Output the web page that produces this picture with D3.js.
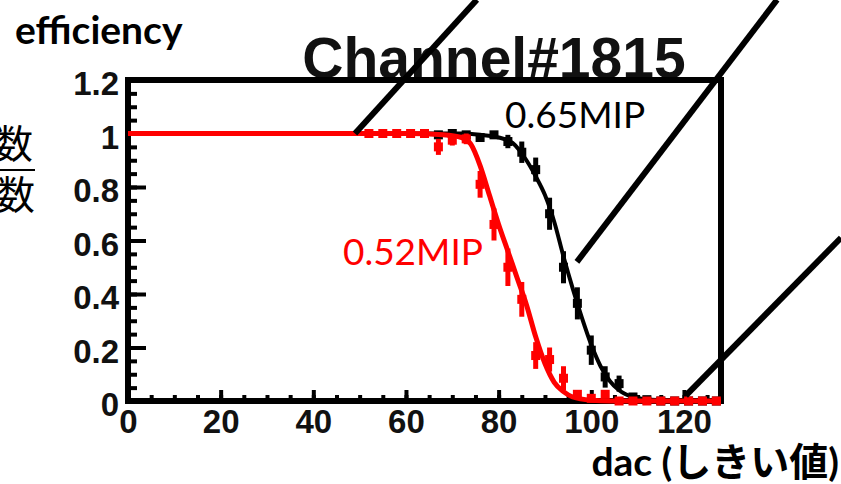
<!DOCTYPE html>
<html>
<head>
<meta charset="utf-8">
<script src="https://cdn.jsdelivr.net/npm/d3@7"></script>
<style>
  body { margin: 0; background: #fff; }
  svg { display: block; }
  .tick-label { font-family: "Liberation Sans", Arial, sans-serif; font-weight: bold; font-size: 33px; fill: #111; }
</style>
</head>
<body>
<div id="wrapper"></div>
<script>
// data
const redDac = [52, 55, 58, 61, 64, 67, 70, 73, 76, 79, 82, 85, 88, 91, 94, 97, 100, 103, 106, 109, 112, 115, 118, 121, 124, 127]
const redEff = [1, 1, 1, 1, 1, 0.95, 0.975, 0.98, 0.81, 0.66, 0.5, 0.38, 0.17, 0.155, 0.085, 0.025, 0.01, 0.025, 0, 0, 0, 0, 0, 0, 0, 0]
const redErr = [0.005, 0.005, 0.005, 0.005, 0.005, 0.03, 0.02, 0.02, 0.05, 0.06, 0.07, 0.065, 0.05, 0.045, 0.045, 0.012, 0.01, 0.012, 0.004, 0.004, 0.004, 0.004, 0.004, 0.004, 0.004, 0.004]

const blackDac = [64, 67, 70, 73, 76, 79, 82, 85, 88, 91, 94, 97, 100, 103, 106, 109, 112, 115, 118, 121, 124, 127]
const blackEff = [1, 0.995, 1, 0.995, 0.985, 0.995, 0.97, 0.93, 0.865, 0.7, 0.5, 0.365, 0.19, 0.09, 0.065, 0.015, 0.005, 0, 0, 0, 0, 0]
const blackErr = [0.005, 0.005, 0.005, 0.005, 0.01, 0.01, 0.025, 0.04, 0.045, 0.06, 0.06, 0.06, 0.055, 0.04, 0.03, 0.01, 0.005, 0.004, 0.004, 0.004, 0.004, 0.004]

// fit curves
const redFitDac = [0, 60, 68, 72, 74, 76, 78, 80, 82, 84, 86, 88, 90, 92, 94, 96, 100, 104, 128]
const redFitEff = [1, 1, 0.995, 0.985, 0.96, 0.88, 0.77, 0.66, 0.56, 0.46, 0.36, 0.24, 0.14, 0.07, 0.035, 0.015, 0.003, 0, 0]
const blackFitDac = [0, 72, 76, 80, 83, 86, 88, 90, 92, 94, 96, 98, 100, 102, 104, 106, 109, 113, 128]
const blackFitEff = [1, 1, 0.995, 0.985, 0.965, 0.9, 0.84, 0.77, 0.67, 0.54, 0.42, 0.31, 0.21, 0.13, 0.075, 0.04, 0.015, 0.005, 0]

const xTicks = [0, 20, 40, 60, 80, 100, 120]
const yTicks = [0, 0.2, 0.4, 0.6, 0.8, 1, 1.2]

// pointer lines of the slide, in (dac, efficiency) units
const pointers = [
  [[49, 1.0], [75.3, 1.5]],
  [[96.9, 0.52], [140.1, 1.5]],
  [[120.4, 0.02], [153.9, 0.61]],
]

const dims = {
  width: 841,
  height: 484,
  margin: { top: 80, right: 120, bottom: 83, left: 128 },
}
dims.boundedWidth = dims.width - dims.margin.left - dims.margin.right
dims.boundedHeight = dims.height - dims.margin.top - dims.margin.bottom

const svg = d3.select("#wrapper").append("svg")
    .attr("width", dims.width)
    .attr("height", dims.height)

const x = d3.scaleLinear().domain([0, 128]).range([dims.margin.left, dims.margin.left + dims.boundedWidth])
const y = d3.scaleLinear().domain([0, 1.2]).range([dims.margin.top + dims.boundedHeight, dims.margin.top])

// title
svg.append("text")
    .attr("x", 494)
    .attr("y", 78)
    .attr("text-anchor", "middle")
    .style("font-family", "'Liberation Sans', Arial, sans-serif")
    .style("font-weight", "bold")
    .style("font-size", "57px")
    .style("fill", "#111")
    .text("Channel#1815")

// frame
svg.append("rect")
    .attr("x", x(0))
    .attr("y", y(1.2))
    .attr("width", x(128) - x(0))
    .attr("height", y(0) - y(1.2))
    .attr("fill", "none")
    .attr("stroke", "#000")
    .attr("stroke-width", 6)

// axes, ticks point inwards
const yMinor = d3.range(0, 1.2001, 0.05)
svg.append("g")
    .attr("transform", `translate(${x(0)},0)`)
    .call(d3.axisLeft(y).tickValues(yMinor).tickSize(-9).tickFormat(""))
svg.append("g")
    .attr("transform", `translate(${x(0)},0)`)
    .call(d3.axisLeft(y).tickValues(yTicks).tickSize(-18).tickPadding(9).tickFormat(d3.format("~g")))
    .call(g => g.selectAll("text").attr("class", "tick-label").attr("dy", "0.45em"))

const xMinor = d3.range(0, 128, 5)
svg.append("g")
    .attr("transform", `translate(0,${y(0)})`)
    .call(d3.axisBottom(x).tickValues(xMinor).tickSize(-6).tickFormat(""))
svg.append("g")
    .attr("transform", `translate(0,${y(0)})`)
    .call(d3.axisBottom(x).tickValues(xTicks).tickSize(-11).tickPadding(8).tickFormat(d3.format("d")))
    .call(g => g.selectAll("text").attr("class", "tick-label").attr("dy", "0.72em"))

svg.selectAll(".domain").remove()
svg.selectAll(".tick line").attr("stroke", "#000").attr("stroke-width", 4)

// series
const drawSeries = (dac, eff, err, fitDac, fitEff, color, fitWidth) => {
  const g = svg.append("g")
  const fit = fitDac.map((d, i) => [d, fitEff[i]])
  const line = d3.line()
      .x(d => x(d[0]))
      .y(d => y(d[1]))
      .curve(d3.curveMonotoneX)
  g.append("path")
      .datum(fit)
      .attr("d", line)
      .attr("fill", "none")
      .attr("stroke", color)
      .attr("stroke-width", fitWidth)

  const pts = dac.map((d, i) => ({ dac: d, eff: eff[i], err: err[i] }))
  g.selectAll(".err").data(pts).join("line")
      .attr("x1", d => x(d.dac))
      .attr("x2", d => x(d.dac))
      .attr("y1", d => y(d.eff + d.err))
      .attr("y2", d => y(Math.max(0, d.eff - d.err)))
      .attr("stroke", color)
      .attr("stroke-width", 5)
  g.selectAll(".pt").data(pts).join("rect")
      .attr("x", d => x(d.dac) - 4.5)
      .attr("y", d => y(d.eff) - 4.5)
      .attr("width", 9)
      .attr("height", 9)
      .attr("fill", color)
}

drawSeries(blackDac, blackEff, blackErr, blackFitDac, blackFitEff, "#000", 4)
drawSeries(redDac, redEff, redErr, redFitDac, redFitEff, "#ff0000", 5)

// series labels
svg.append("text")
    .attr("x", x(81.4))
    .attr("y", y(1.02))
    .style("font-family", "Lato, sans-serif")
    .style("font-size", "37px")
    .style("fill", "#000")
    .text("0.65MIP")
svg.append("text")
    .attr("x", x(46.4))
    .attr("y", y(0.508))
    .style("font-family", "Lato, sans-serif")
    .style("font-size", "37px")
    .style("fill", "#ff0000")
    .text("0.52MIP")

// pointer lines
pointers.forEach(p => {
  svg.append("line")
      .attr("x1", x(p[0][0]))
      .attr("y1", y(p[0][1]))
      .attr("x2", x(p[1][0]))
      .attr("y2", y(p[1][1]))
      .attr("stroke", "#000")
      .attr("stroke-width", 6)
})

// axis titles
svg.append("text")
    .attr("x", 15)
    .attr("y", 44)
    .style("font-family", "Lato, sans-serif")
    .style("font-weight", "bold")
    .style("font-size", "39px")
    .style("fill", "#000")
    .text("efficiency")

svg.append("text")
    .attr("x", 839)
    .attr("y", 476)
    .attr("text-anchor", "end")
    .style("font-family", "Lato, 'Noto Sans CJK JP', sans-serif")
    .style("font-weight", "bold")
    .style("font-size", "39px")
    .style("fill", "#000")
    .text("dac (しきい値)")

// cropped fraction on the left edge
const frac = svg.append("g")
    .style("font-family", "'Noto Sans CJK JP', sans-serif")
    .style("font-size", "39px")
    .style("fill", "#000")
frac.append("text").attr("x", 33).attr("y", 158).attr("text-anchor", "end").text("数")
frac.append("text").attr("x", 35).attr("y", 209).attr("text-anchor", "end").text("数")
frac.append("line")
    .attr("x1", 0).attr("x2", 35)
    .attr("y1", 170).attr("y2", 170)
    .attr("stroke", "#000")
    .attr("stroke-width", 2)
</script>
</body>
</html>
